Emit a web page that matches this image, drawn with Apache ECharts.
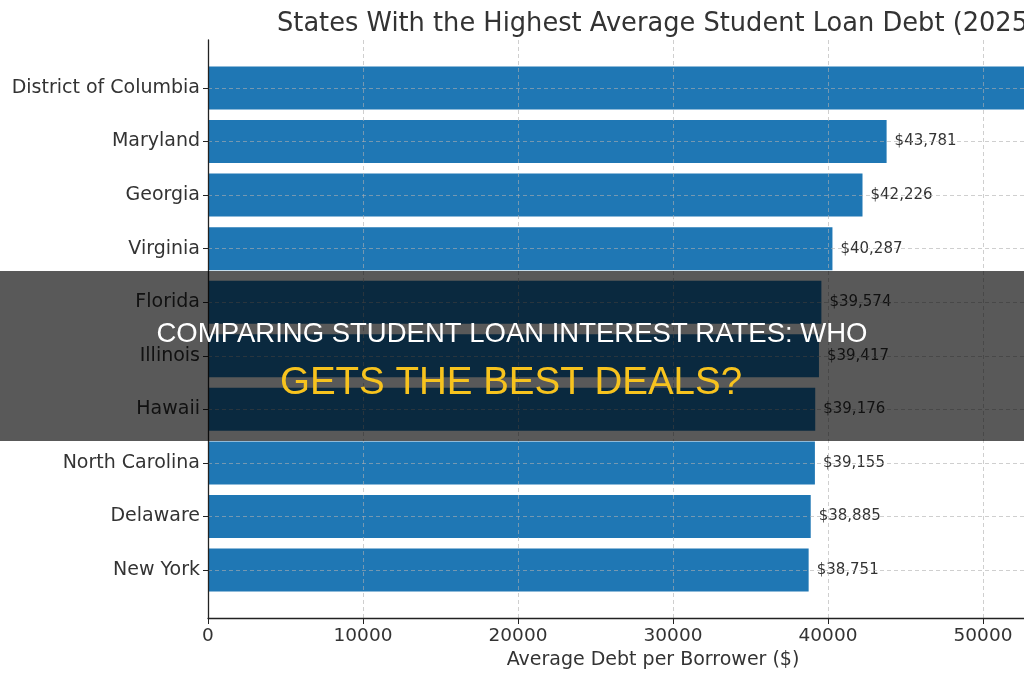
<!DOCTYPE html>
<html>
<head>
<meta charset="utf-8">
<script src="https://cdn.jsdelivr.net/npm/echarts@6/dist/echarts.min.js"></script>
<style>
  html, body { margin: 0; padding: 0; background: #fff; }
  #chart { width: 1024px; height: 680px; }
</style>
</head>
<body>
<div id="chart"></div>
<script>
// data
const states = ['District of Columbia', 'Maryland', 'Georgia', 'Virginia', 'Florida',
  'Illinois', 'Hawaii', 'North Carolina', 'Delaware', 'New York']
const avgDebt = [54795, 43781, 42226, 40287, 39574, 39417, 39176, 39155, 38885, 38751]
const xTicks = [0, 10000, 20000, 30000, 40000, 50000]

const titleText = 'States With the Highest Average Student Loan Debt (2025)'
const headline1 = 'COMPARING STUDENT LOAN INTEREST RATES: WHO'
const headline2 = 'GETS THE BEST DEALS?'

// the picture is cropped at the right, so the visible axis stops short of the real max
const xMax = 52645
const dash = [4, 3]
const gridColor = 'rgba(175,175,175,0.6)'

const option = {
    animation: false,
    backgroundColor: '#fff',
    title: {
        text: titleText,
        left: 272,
        top: 6,
        textStyle: { fontFamily: 'DejaVu Sans', fontSize: 25.7, fontWeight: 'normal', color: '#333' }
    },
    grid: [
        // bars: category centres from first to last bar
        { left: 208, right: 0, top: 88, bottom: 110 },
        // frame: full axes box
        { left: 208, right: 0, top: 40, bottom: 62 }
    ],
    xAxis: [
        { gridIndex: 0, type: 'value', min: 0, max: xMax, show: false },
        {
            gridIndex: 1, type: 'value', min: 0, max: xMax, interval: 10000, z: 5,
            axisLine: { show: true, lineStyle: { color: '#222', width: 1.3 } },
            axisTick: { show: true, length: 6, lineStyle: { color: '#222' } },
            axisLabel: {
                fontFamily: 'DejaVu Sans', fontSize: 18.5, color: '#333', margin: 9,
                showMaxLabel: false,
                formatter: v => xTicks.includes(v) ? String(v) : ''
            },
            splitLine: { show: true, lineStyle: { color: gridColor, type: dash, width: 1 } },
            name: 'Average Debt per Borrower ($)',
            nameLocation: 'middle',
            nameGap: 33,
            nameTextStyle: { fontFamily: 'DejaVu Sans', fontSize: 19, color: '#333', padding: [0, 0, 0, 74] }
        }
    ],
    yAxis: [
        {
            gridIndex: 0, type: 'category', data: states, inverse: true, boundaryGap: false, z: 5,
            axisLine: { show: false },
            axisTick: { show: true, length: 5, alignWithLabel: true, lineStyle: { color: '#222' } },
            axisLabel: { fontFamily: 'DejaVu Sans', fontSize: 19, color: '#333', margin: 8 },
            splitLine: { show: true, lineStyle: { color: gridColor, type: dash, width: 1 } }
        },
        {
            gridIndex: 1, type: 'value', min: 0, max: 1, z: 5,
            axisLine: { show: true, onZero: false, lineStyle: { color: '#222', width: 1.3 } },
            axisTick: { show: false },
            axisLabel: { show: false },
            splitLine: { show: false }
        }
    ],
    series: [
        {
            type: 'bar',
            xAxisIndex: 0,
            yAxisIndex: 0,
            data: avgDebt,
            barWidth: 43,
            clip: false,
            itemStyle: { color: '#1f77b4' },
            label: {
                show: true,
                position: 'right',
                distance: 8,
                fontFamily: 'DejaVu Sans',
                fontSize: 15,
                color: '#333',
                formatter: p => '$' + p.value.toLocaleString('en-US')
            }
        }
    ],
    graphic: [
        {
            type: 'rect', z: 100,
            shape: { x: 0, y: 271, width: 1024, height: 170 },
            style: { fill: 'rgba(0,0,0,0.65)' }
        },
        {
            type: 'text', z: 101,
            style: {
                text: headline1, x: 512, y: 334, align: 'center', verticalAlign: 'middle',
                font: '27.5px "Liberation Sans", Arial, sans-serif', fill: '#fff'
            }
        },
        {
            type: 'text', z: 101,
            style: {
                text: headline2, x: 511, y: 383, align: 'center', verticalAlign: 'middle',
                font: '38.5px "Liberation Sans", Arial, sans-serif', fill: '#f7c31e'
            }
        }
    ]
}

const chart = echarts.init(document.getElementById('chart'))
chart.setOption(option)
window.onresize = function () {
    chart.resize()
}
</script>
</body>
</html>
